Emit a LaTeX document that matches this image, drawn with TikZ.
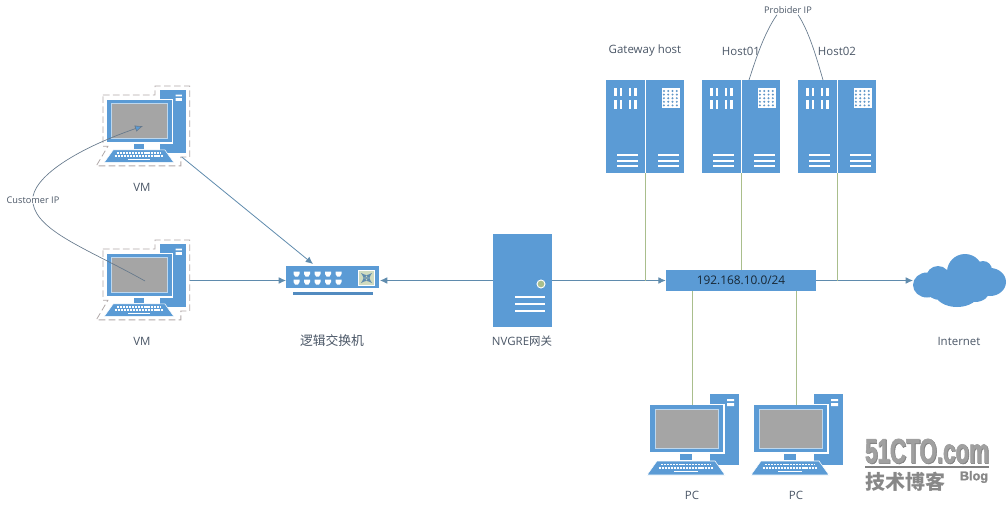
\documentclass[tikz,border=0pt]{standalone}
\usepackage{fontspec}
\usetikzlibrary{arrows.meta}
\setmainfont{Open Sans}
\newfontfamily\cjk{Noto Sans CJK SC}
\newfontfamily\logofont{Liberation Sans}[FakeBold=2,BoldFont={Liberation Sans Bold}]
\definecolor{iconblue}{HTML}{5B9BD5}
\definecolor{screengrey}{HTML}{A5A5A5}
\definecolor{edgeblue}{HTML}{BDD7EE}
\definecolor{textgrey}{HTML}{4A5666}
\definecolor{linkblue}{HTML}{5F8BAD}
\definecolor{wiregreen}{HTML}{A9BE8C}
\definecolor{framegrey}{HTML}{B0A8A8}
\definecolor{curvegrey}{HTML}{66798C}
\definecolor{logogrey}{HTML}{A0A0A0}
\tikzset{
  lbl/.style={inner sep=0pt,text=textgrey,font=\fontsize{8.6}{10}\selectfont},
  smalllbl/.style={inner sep=0pt,text=textgrey,font=\fontsize{6.9}{8}\selectfont},
  link/.style={draw=linkblue,line width=.6pt,-{Latex[length=5.5pt,width=5pt,fill=linkblue]}},
  wire/.style={draw=wiregreen,line width=.7pt},
  ipcurve/.style={draw=curvegrey,line width=.5pt},
  pics/desktop/.style={code={
    \fill[iconblue] (60,-11) rectangle (89,60);
    \fill[white] (77,-6) rectangle (84,-4) (77,-2) rectangle (84,1);
    \fill[white] (-1.5,-1.5) rectangle (74.5,49);
    \fill[iconblue] (0,0) rectangle (73,47);
    \fill[edgeblue] (4.5,3.5) rectangle (68.5,43.5);
    \fill[screengrey] (5.5,4.5) rectangle (67.5,42.5);
    \fill[iconblue] (30,49) rectangle (42,55);
    \fill[iconblue,draw=white,line width=.4pt] (7,56) -- (65,56) -- (75,70) -- (-3,70) -- cycle;
    \draw[white,line width=1.3pt,dash pattern=on 1.6pt off .7pt] (11,59.5) -- (61,59.5);
    \draw[white,line width=1.3pt,dash pattern=on 1.6pt off .7pt] (8.5,63) -- (63.5,63);
    \draw[white,line width=1pt] (24,66.5) -- (48,66.5);
    \coordinate (-north) at (42,0);
  }},
  pics/vmframe/.style={code={
    \draw[framegrey,line width=.6pt,dash pattern=on 5pt off 2.5pt]
      (-4.5,-5.6) -- (54,-5.6) -- (54,-15.7) -- (93,-15.7) -- (93,64) -- (83,64) -- (83,74)
      -- (-12,74) -- (1,52) -- (-4.5,52) -- cycle;
    \coordinate (-out) at (84,64);
    \coordinate (-east) at (93,29.8);
  }},
  pics/rack/.style={code={
    \fill[iconblue] (0,0) rectangle (78,93);
    \draw[white,line width=.7pt] (39,0) -- (39,93);
    \foreach \vx in {8,13.5,22.5,28} {
      \fill[white] (\vx,8) rectangle ++(2.5,8);
      \fill[white] (\vx,20) rectangle ++(2.5,9);
    }
    \fill[white] (55.5,8) rectangle (73.5,28.5);
    \foreach \dx in {58.5,62.8,67.1,71.4} \foreach \dy in {11,14.6,18.2,21.8,25.4}
      \fill[iconblue!85!gray] (\dx-.6,\dy) circle[radius=1.1];
    \foreach \ly in {75,81,86} {
      \draw[white,line width=.9pt] (11,\ly) -- (32,\ly);
      \draw[white,line width=.9pt] (52,\ly) -- (73,\ly);
    }
    \coordinate (-south) at (39,93);
  }},
  pics/lanswitch/.style={code={
    \fill[iconblue] (0,0) rectangle (93,22);
    \fill[iconblue!90!black] (7,26) rectangle (87,28.5);
    \foreach \px in {7.5,18,28.5,39,49.5} \foreach \py in {5.5,13.5}
      \fill[white] (\px,\py) -- ++(6,0) -- ++(0,2.5) -- ++(-1.5,2.5) -- ++(-3,0) -- ++(-1.5,-2.5) -- cycle;
    \fill[white] (72,4) rectangle (89,20);
    \fill[wiregreen!55!white] (73,5) rectangle (88,19);
    \draw[linkblue,line width=.5pt,latex-latex] (75,7) -- (86,17);
    \draw[linkblue,line width=.5pt,latex-latex] (75,17) -- (86,7);
    \coordinate (-west) at (0,14.5);
    \coordinate (-east) at (94,14.5);
    \coordinate (-north) at (27,-2);
  }}
}
\begin{document}
\begin{tikzpicture}[x=.75pt,y=-.75pt]
\useasboundingbox (0,0) rectangle (1008,510);
% left side virtual machines
\pic[scale=.89] (vmA) at (107,100) {desktop};
\pic[scale=.89] (frameA) at (107,100) {vmframe};
\pic[scale=.89] (vmB) at (107,254) {desktop};
\pic[scale=.89] (frameB) at (107,254) {vmframe};
\node[lbl] (vmlblA) at (142,187) {VM};
\node[lbl] (vmlblB) at (142,341) {VM};
\node[smalllbl] (custip) at (33,200) {Customer IP};
% switch and gateway
\pic (sw) at (286,266) {lanswitch};
\node[lbl,font=\fontsize{9.6}{11}\selectfont] (swlbl) at (332,341) {\cjk 逻辑交换机};
\node[fill=iconblue,minimum width=44.25pt,minimum height=69.75pt,inner sep=0pt] (nvgre) at (522.5,280.5) {};
\fill[wiregreen,draw=white,line width=.7pt] (541,284) circle[radius=4];
\foreach \ly in {297,304,311}
  \draw[white,line width=1.1pt] (515,\ly) -- (545,\ly);
\node[lbl] (nvlbl) at (522,341) {NVGRE{\cjk 网关}};
% hosts
\pic (gwhost) at (606,80) {rack};
\pic (hostA) at (702,80) {rack};
\pic (hostB) at (798,80) {rack};
\node[lbl] (gwlbl) at (645,51) {Gateway host};
\node[lbl] (hostlblA) at (741,51) {Host01};
\node[lbl] (hostlblB) at (837,51) {Host02};
\node[smalllbl] (provip) at (788,10) {Probider IP};
\node[fill=iconblue,minimum width=112.5pt,minimum height=15.75pt,inner sep=0pt,text=black!75!iconblue,font=\fontsize{8.9}{10}\selectfont] (subnet) at (741,280.5) {192.168.10.0/24};
% office machines
\pic (pcA) at (650,405) {desktop};
\pic (pcB) at (754,405) {desktop};
\node[lbl] (pclblA) at (692,495) {PC};
\node[lbl] (pclblB) at (796,495) {PC};
% internet cloud
\fill[iconblue] (965,272) circle[radius=18] (938,278) circle[radius=12] (983,270) circle[radius=9]
  (927,285) ellipse[x radius=14,y radius=12.5] (990,282) ellipse[x radius=16,y radius=14]
  (957,293) ellipse[x radius=22,y radius=14] (975,290) ellipse[x radius=15,y radius=12]
  (940,292) ellipse[x radius=12,y radius=8];
\coordinate (inet) at (913,280.5);
\node[lbl] (inetlbl) at (959,341) {Internet};
% links
\draw[link] (frameA-out) -- (sw-north);
\draw[link] (frameB-east) -- (sw-west);
\draw[link] (nvgre) -- (sw-east);
\draw[link] (nvgre.east) -- (subnet.west);
\draw[link] (subnet.east) -- (inet);
\draw[wire] (gwhost-south) -- (gwhost-south |- subnet.west);
\draw[wire] (hostA-south) -- (subnet.north);
\draw[wire] (hostB-south) -- (hostB-south |- subnet.east);
\draw[wire] (pcA-north) -- (pcA-north |- subnet.south);
\draw[wire] (pcB-north) -- (pcB-north |- subnet.south);
% ip address callouts
\coordinate (scrA) at (143,126);
\coordinate (scrB) at (145,281);
\coordinate (uplinkA) at (749,80);
\coordinate (uplinkB) at (823,80);
\draw[ipcurve,-{Latex[length=6pt,width=5pt,fill=iconblue]}] (custip.north) .. controls (38,172) and (85,146) .. (scrA);
\draw[ipcurve] (custip.south) .. controls (38,232) and (90,250) .. (scrB);
\draw[ipcurve] (provip.south west) ++(13,1) .. controls (765,32) and (757,55) .. (uplinkA);
\draw[ipcurve] (provip.south east) ++(-14,1) .. controls (808,30) and (815,52) .. (uplinkB);
% watermark
\node[inner sep=0pt,text=gray] (logoback) at (927.8,451.8) {\resizebox{93pt}{18pt}{\logofont\bfseries 51CTO.com}};
\node[inner sep=0pt,text=logogrey] (logotop) at (927,451) {\resizebox{93pt}{18pt}{\logofont\bfseries 51CTO.com}};
\draw[gray,line width=1.2pt] (865,467) -- (989,467);
\node[inner sep=0pt,text=logogrey!85!black,font=\fontsize{15}{17}\selectfont\cjk\bfseries] (logocn) at (905,482) {技术博客};
\node[inner sep=0pt,text=logogrey!85!black,font=\fontsize{9.5}{11}\selectfont\logofont\bfseries] (logoblog) at (974,477) {Blog};
\end{tikzpicture}
\end{document}
